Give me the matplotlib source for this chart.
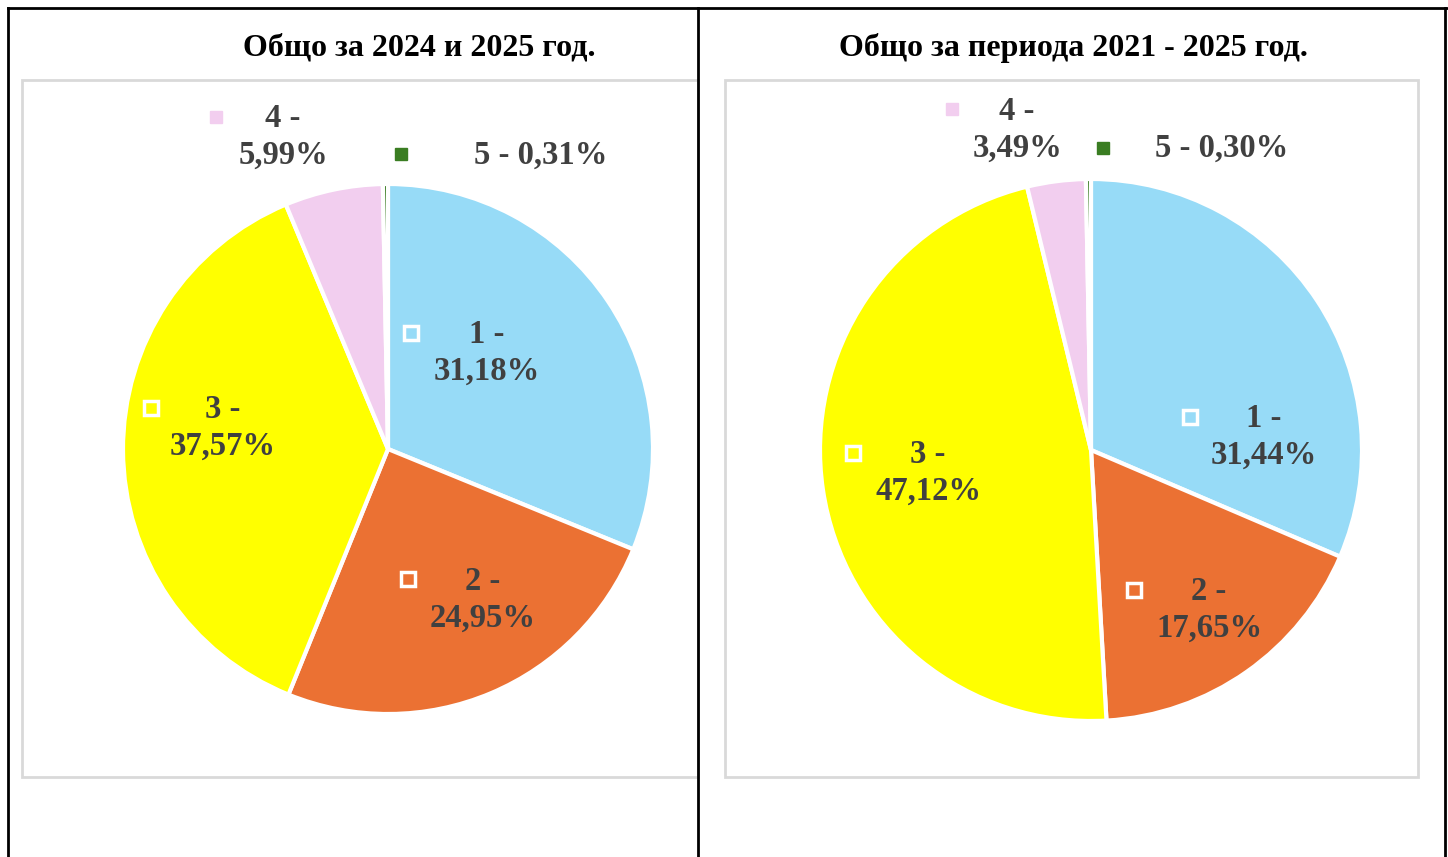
import matplotlib.pyplot as plt
from matplotlib.patches import Rectangle

# data
categories = ['1', '2', '3', '4', '5']
share_2024_2025 = [31.18, 24.95, 37.57, 5.99, 0.31]
share_2021_2025 = [31.44, 17.65, 47.12, 3.49, 0.30]
titles = ['Общо за 2024 и 2025 год.', 'Общо за периода 2021 - 2025 год.']
colors = ['#97DBF7', '#EB7133', '#FFFF00', '#F2CEEF', '#3A7D22']

W, H = 1448, 857


def fy(y):
    # pixel row (top-down) -> data y (bottom-up)
    return H - y


def fmt(v):
    return f'{v:.2f}'.replace('.', ',') + '%'


def main():
    plt.rcParams['font.family'] = ['Liberation Serif', 'DejaVu Serif']
    fig = plt.figure(figsize=(W / 100, H / 100), dpi=100)
    ax = fig.add_axes([0, 0, 1, 1])

    # table borders
    ax.plot([8, W], [fy(8), fy(8)], color='black', lw=2)
    for x in [8, 698, 1445]:
        ax.plot([x, x], [fy(8), 0], color='black', lw=2)

    # chart area frames
    ax.add_patch(Rectangle((22, fy(777)), 676, 697, fill=False, edgecolor='#D9D9D9', lw=2))
    ax.add_patch(Rectangle((725, fy(777)), 693, 697, fill=False, edgecolor='#D9D9D9', lw=2))

    pies = [
        dict(vals=share_2024_2025, center=(388, 449), r=265, title_x=419,
             inner=[(487, 353, 411, 333), (483, 600, 408, 579), (223, 428, 151, 408)],
             outer=[(283, 137, 216, 117, False), (541, 155, 401, 154, True)]),
        dict(vals=share_2021_2025, center=(1091, 450), r=271, title_x=1073,
             inner=[(1264, 437, 1190, 417), (1209, 610, 1134, 590), (928, 473, 853, 453)],
             outer=[(1017, 130, 952, 109, False), (1222, 148, 1103, 148, True)]),
    ]

    for p, title in zip(pies, titles):
        cx, cy = p['center']
        ax.pie(p['vals'], colors=colors, startangle=90, counterclock=False,
               center=(cx, fy(cy)), radius=p['r'],
               explode=[0, 0.02, 0, 0, 0],
               wedgeprops=dict(edgecolor='white', linewidth=3))
        ax.text(p['title_x'], fy(48), title, ha='center', va='center',
                fontsize=23, fontweight='bold', color='black')

        # labels inside slices 1-3
        for i, (tx, ty, mx, my) in enumerate(p['inner']):
            ax.text(tx, fy(ty), f'{categories[i]} -\n{fmt(p["vals"][i])}', ha='center', va='center',
                    fontsize=23.5, fontweight='bold', color='#404040', linespacing=1.25)
            ax.plot(mx, fy(my), marker='s', markersize=10, markerfacecolor=colors[i],
                    markeredgecolor='white', markeredgewidth=2.5)

        # labels outside for slices 4-5
        for j, (tx, ty, mx, my, one_line) in enumerate(p['outer']):
            i = j + 3
            sep = ' ' if one_line else '\n'
            ax.text(tx, fy(ty), f'{categories[i]} -{sep}{fmt(p["vals"][i])}', ha='center', va='center',
                    fontsize=23.5, fontweight='bold', color='#404040', linespacing=1.25)
            ax.plot(mx, fy(my), marker='s', markersize=8, markerfacecolor=colors[i],
                    markeredgecolor=colors[i])

    ax.set_xlim(0, W)
    ax.set_ylim(0, H)
    ax.set_axis_off()
    fig.savefig('out.png', dpi=100)


if __name__ == "__main__":
    main()
